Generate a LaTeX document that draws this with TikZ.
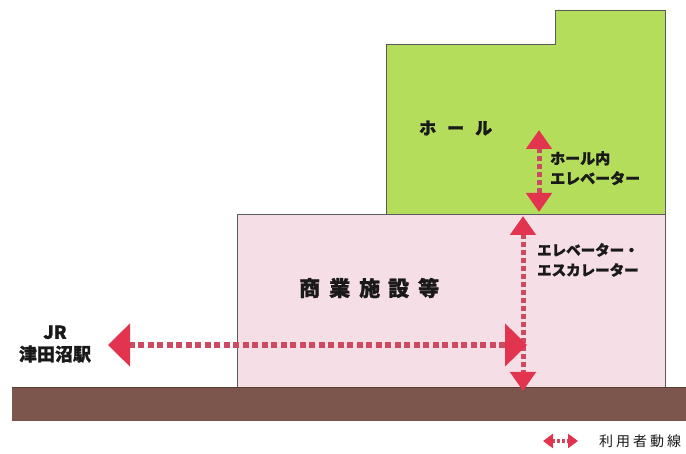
\documentclass[tikz,border=0pt]{standalone}
\usepackage{fontspec}
\newfontfamily\jp{Noto Sans CJK JP}[BoldFeatures={FakeBold=1.2}]
\usetikzlibrary{arrows.meta}
\definecolor{hallgreen}{RGB}{181,221,92}
\definecolor{shoppink}{RGB}{246,222,230}
\definecolor{ground}{RGB}{124,86,76}
\definecolor{tipred}{RGB}{226,52,78}
\definecolor{dotred}{RGB}{206,74,96}
\definecolor{edge}{RGB}{90,90,95}
\tikzset{
  flowbig/.style={line width=5.5pt, dotred, dash pattern=on 6pt off 3.5pt,
    {Triangle[width=42pt,length=22pt,color=tipred]}-{Triangle[width=42pt,length=22pt,color=tipred]}},
  flowv/.style={line width=5pt, dotred, dash pattern=on 5pt off 3pt,
    {Triangle[width=25pt,length=19pt,color=tipred]}-{Triangle[width=25pt,length=19pt,color=tipred]}},
  flowsmall/.style={line width=3.5pt, dotred, dash pattern=on 3pt off 2pt,
    {Triangle[width=14pt,length=10pt,color=tipred]}-{Triangle[width=14pt,length=10pt,color=tipred]}},
  lbl/.style={font=\jp\bfseries, text=black!90, inner sep=0pt, align=left},
}
\begin{document}
\begin{tikzpicture}[x=1pt,y=-1pt]
\useasboundingbox (0,0) rectangle (686,454);
% ground
\fill[ground] (12,388) rectangle (686,421);
\draw[ground!70!black, line width=1pt] (12,388) -- (686,388);
% commercial building
\draw[fill=shoppink, draw=edge, line width=0.9pt] (237,387) -- (237,214) -- (665,214) -- (665,387);
% hall
\draw[fill=hallgreen, draw=edge, line width=0.9pt] (386,214) -- (386,44) -- (555,44) -- (555,10) -- (665,10) -- (665,214) -- cycle;
% labels
\node[lbl, font=\jp\bfseries\fontsize{17pt}{17pt}\selectfont, anchor=west] (hall) at (419,128) {ホ\hspace{11pt}ー\hspace{11pt}ル};
\node[lbl, font=\jp\bfseries\fontsize{21pt}{21pt}\selectfont, anchor=west] (shop) at (299,288) {商\hspace{9pt}業\hspace{9pt}施\hspace{8pt}設\hspace{9pt}等};
\node[lbl, font=\jp\bfseries\fontsize{15pt}{20pt}\selectfont, anchor=north west] (hallev) at (550,151) {ホール内\\エレベーター};
\node[lbl, font=\jp\bfseries\fontsize{14.5pt}{20pt}\selectfont, anchor=north west] (shopev) at (537,243) {エレベーター・\\エスカレーター};
\node[lbl, font=\jp\bfseries\fontsize{18pt}{22pt}\selectfont, align=center] (jr) at (55,344) {JR\\津田沼駅};
\node[lbl, font=\jp\fontsize{14pt}{14pt}\selectfont, anchor=west] (legend) at (599,441) {利\hspace{3pt}用\hspace{3pt}者\hspace{3pt}動\hspace{3pt}線};
% flows
\coordinate (hL) at (108,345);
\coordinate (hR) at (527,345);
\coordinate (vT) at (523,216);
\coordinate (vB) at (523,391);
\coordinate (eT) at (539,130);
\coordinate (eB) at (539,212);
\coordinate (lgL) at (543,441);
\coordinate (lgR) at (578,441);
\draw[flowv] (vT) -- (vB);
\draw[flowbig] (hL) -- (hR);
\draw[flowv] (eT) -- (eB);
\draw[flowsmall] (lgL) -- (lgR);
\end{tikzpicture}
\end{document}
